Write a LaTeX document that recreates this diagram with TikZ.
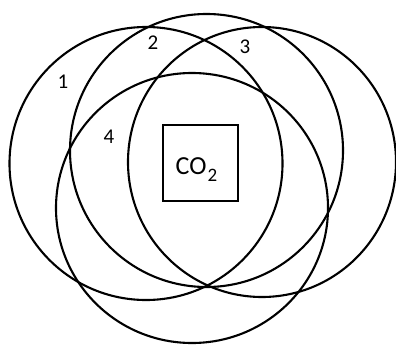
\documentclass[tikz,border=0pt]{standalone}
\usepackage{fontspec}
\setmainfont{Carlito}
\usetikzlibrary{shapes.geometric}
\tikzset{
  ring/.style={ellipse, draw=black, line width=2.1pt, inner sep=0pt, outer sep=0pt},
  boxsq/.style={rectangle, draw=black, line width=2.8pt, inner sep=0pt, outer sep=0pt,
    minimum width=75pt, minimum height=76pt},
  num/.style={inner sep=0pt, font=\fontsize{21}{24}\selectfont},
  chem/.style={inner sep=0pt, anchor=base west, font=\fontsize{26}{30}\selectfont}
}
\begin{document}
\begin{tikzpicture}[x=1pt, y=-1pt]
\useasboundingbox (0,0) rectangle (396,345);
\fill[white] (0,0) rectangle (396,345);
\node[ring, minimum width=273pt, minimum height=273pt] (c1) at (146,163.5) {};
\node[ring, minimum width=273pt, minimum height=273pt] (c2) at (206.5,150.5) {};
\node[ring, minimum width=268pt, minimum height=270pt] (c3) at (262,162) {};
\node[ring, minimum width=272pt, minimum height=270pt] (c4) at (192,208) {};
\node[boxsq] (box) at (200.5,163) {};
\node[chem] (co2) at (175.5,174) {CO\kern1pt\raisebox{-7pt}{\fontsize{19}{21}\selectfont 2}};
\node[num] (l1) at (63,82) {1};
\node[num] (l2) at (153,43) {2};
\node[num] (l3) at (245,46.5) {3};
\node[num] (l4) at (109,137) {4};
\end{tikzpicture}
\end{document}
